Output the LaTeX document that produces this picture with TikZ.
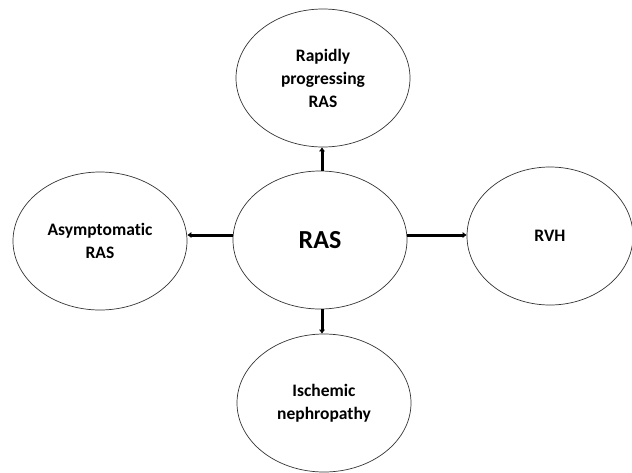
\documentclass[tikz,border=0pt]{standalone}
\usepackage{fontspec}
\setmainfont[Ligatures=NoCommon]{Carlito}
\usetikzlibrary{shapes.geometric, arrows.meta, positioning}

\tikzset{
    bubble/.style={ellipse,draw=black!80,line width=0.7pt,minimum width=174pt,minimum height=138pt,inner sep=0pt,align=center,font=\fontsize{17.5}{23}\selectfont\bfseries},
    link/.style={line width=3pt,-{Latex[length=4pt,width=6.5pt]}}
}

\begin{document}
\begin{tikzpicture}[x=1pt,y=-1pt]
    \useasboundingbox (0,0) rectangle (632,472);
    \node[bubble,font=\fontsize{26}{30}\selectfont\bfseries] (ras) at (320,240) {RAS};
    \node[bubble] (rapid) at (323,78) {Rapidly\\progressing\\RAS};
    \node[bubble] (asym) at (100,241) {Asymptomatic\\RAS};
    \node[bubble,minimum width=166pt] (rvh) at (550,236) {RVH};
    \node[bubble] (isch) at (324,403) {Ischemic\\nephropathy};
    % arrow ends
    \coordinate (up) at ([xshift=2pt]ras.north);
    \coordinate (dn) at ([xshift=2pt]ras.south);
    \coordinate (lf) at ([yshift=5pt]ras.west);
    \coordinate (rt) at ([yshift=5pt]ras.east);
    \draw[link] (up) -- (up |- rapid.south);
    \draw[link] (lf) -- (lf -| asym.east);
    \draw[link] (rt) -- (rt -| rvh.west);
    \draw[link] (dn) -- (dn |- isch.north);
\end{tikzpicture}
\end{document}
